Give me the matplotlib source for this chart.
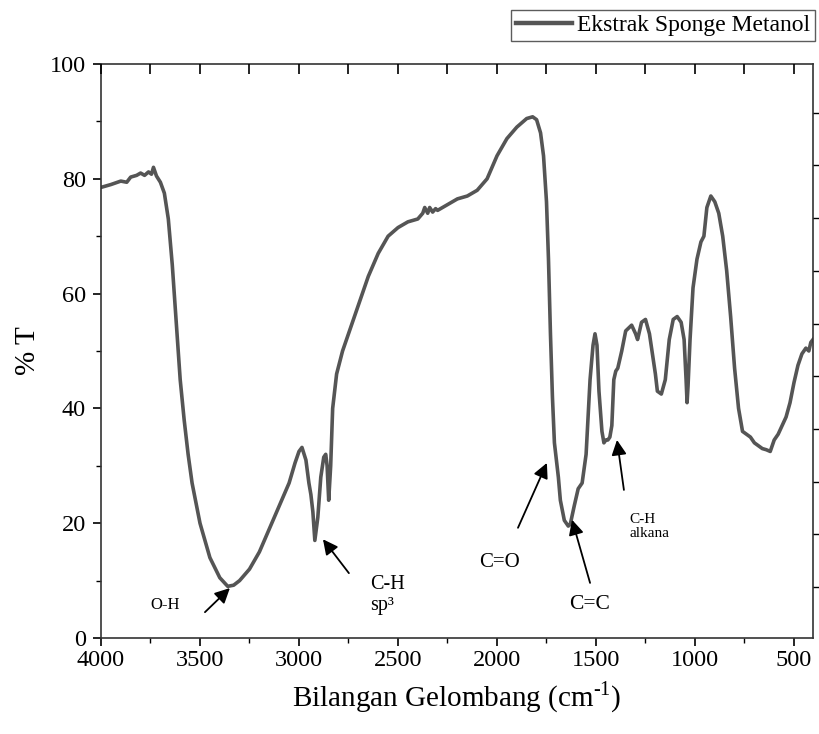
import numpy as np
import matplotlib
matplotlib.use("Agg")
import matplotlib.pyplot as plt
from matplotlib.ticker import MultipleLocator

plt.rcParams['font.family'] = ['Liberation Serif', 'DejaVu Serif']
plt.rcParams['mathtext.fontset'] = 'custom'
plt.rcParams['mathtext.rm'] = 'Liberation Serif'

# ---- data (wavenumber cm-1, %T) ----
wavenumber = [4000, 3950, 3900, 3870, 3850, 3820, 3800, 3780, 3760, 3745, 3735, 3720, 3700, 3680,
              3660, 3640, 3620, 3600, 3580, 3560, 3540, 3500, 3450, 3400, 3360, 3330, 3300,
              3250, 3200, 3150, 3100, 3050, 3020, 3000, 2985, 2965, 2950, 2940, 2930, 2920,
              2905, 2890, 2875, 2865, 2858, 2850, 2840, 2830, 2810, 2780, 2750, 2700, 2650,
              2600, 2550, 2500, 2450, 2400, 2375, 2365, 2350, 2340, 2325, 2310, 2300, 2250,
              2200, 2150, 2100, 2050, 2000, 1950, 1900, 1850, 1820, 1800, 1780, 1765, 1750,
              1740, 1730, 1720, 1710, 1700, 1690, 1680, 1660, 1640, 1630, 1610, 1590, 1570,
              1550, 1530, 1515, 1505, 1495, 1485, 1470, 1460, 1450, 1440, 1430, 1420, 1410,
              1400, 1390, 1370, 1350, 1320, 1300, 1290, 1270, 1250, 1230, 1200, 1190, 1170,
              1150, 1130, 1110, 1090, 1070, 1055, 1045, 1040, 1035, 1025, 1010, 990, 970,
              955, 940, 920, 900, 880, 860, 840, 820, 800, 780, 760, 740, 720, 700, 680,
              660, 640, 620, 600, 580, 560, 540, 520, 500, 480, 460, 440, 425, 415, 404]
transmittance = [78.5, 79.0, 79.6, 79.4, 80.3, 80.6, 81.0, 80.6, 81.2, 80.8, 82.0, 80.5, 79.4, 77.5,
                 73.0, 65.0, 55.0, 45.0, 38.0, 32.0, 27.0, 20.0, 14.0, 10.5, 9.0, 9.2, 10.0,
                 12.0, 15.0, 19.0, 23.0, 27.0, 30.5, 32.5, 33.2, 31.0, 27.0, 25.0, 22.0, 17.0,
                 21.0, 28.0, 31.5, 32.0, 30.0, 24.0, 30.0, 40.0, 46.0, 50.0, 53.0, 58.0, 63.0,
                 67.0, 70.0, 71.5, 72.5, 73.0, 74.0, 75.0, 74.0, 75.0, 74.2, 74.8, 74.5, 75.5,
                 76.5, 77.0, 78.0, 80.0, 84.0, 87.0, 89.0, 90.5, 90.8, 90.3, 88.0, 84.0, 76.0,
                 66.0, 53.0, 42.0, 34.0, 31.0, 28.0, 24.0, 20.5, 19.5, 19.8, 23.0, 26.0, 27.0,
                 32.0, 45.0, 51.0, 53.0, 51.0, 43.0, 36.0, 34.0, 34.5, 34.5, 35.0, 37.0, 45.0,
                 46.5, 47.0, 50.0, 53.5, 54.5, 53.0, 52.0, 55.0, 55.5, 53.0, 46.0, 43.0, 42.5,
                 45.0, 52.0, 55.5, 56.0, 55.0, 52.0, 45.0, 41.0, 44.0, 52.0, 61.0, 66.0, 69.0,
                 70.0, 75.0, 77.0, 76.0, 74.0, 70.0, 64.0, 56.0, 47.0, 40.0, 36.0, 35.5, 35.0,
                 34.0, 33.5, 33.0, 32.8, 32.5, 34.5, 35.5, 37.0, 38.5, 41.0, 44.5, 47.5, 49.5,
                 50.5, 50.0, 51.5, 52.0]

series_label = "Ekstrak Sponge Metanol"
x_ticks = [4000, 3500, 3000, 2500, 2000, 1500, 1000, 500]
y_ticks = [0, 20, 40, 60, 80, 100]

# annotations: (text, text_x, text_y, arrow tail, arrow tip, fontsize, ha)
annotations = [
    ("O-H", 3677, 5.7, (3475, 4.5), (3349, 8.7), 12, "center"),
    ("C-H\nsp³", 2641, 7.5, (2748, 11.3), (2879, 17.2), 14.5, "left"),
    ("C=O", 1985, 13.1, (1894, 19.2), (1748, 30.5), 15, "center"),
    ("C=C", 1530, 5.9, (1530, 9.6), (1621, 20.6), 15.5, "center"),
    ("C-H\nalkana", 1329, 19.5, (1359, 25.8), (1394, 34.5), 11, "left"),
]

fig = plt.figure(figsize=(8.2, 7.34), dpi=100)
ax = fig.add_axes([101/820, 1-638/734, (813-101)/820, (638-64)/734])

ax.plot(wavenumber, transmittance, color='#555555', lw=2.6, label=series_label,
        solid_joinstyle='round')

ax.set_xlim(4000, 404)
ax.set_ylim(0, 100)
ax.set_xticks(x_ticks)
ax.set_yticks(y_ticks)
ax.xaxis.set_minor_locator(MultipleLocator(250))
ax.yaxis.set_minor_locator(MultipleLocator(10))
ax.tick_params(axis='both', which='major', direction='out', length=6, width=1.2,
               labelsize=17.5, top=False, right=False)
ax.tick_params(axis='x', which='major', pad=3)
ax.tick_params(axis='y', which='major', pad=5)
ax.tick_params(axis='both', which='minor', direction='out', length=3.5, width=1.0,
               top=False, right=False)
for s in ax.spines.values():
    s.set_linewidth(1.2)
    s.set_color('#333333')

ax.set_xlabel(r"Bilangan Gelombang (cm$^{\text{-1}}$)", fontsize=21, labelpad=6)
ax.set_ylabel("% T", fontsize=21, labelpad=6)

# top axis ticks (inward, no labels)
axt = ax.twiny()
axt.set_xlim(ax.get_xlim())
axt.set_xticks(np.arange(500, 4001, 250))
axt.tick_params(axis='x', direction='in', length=7, width=1.2, labeltop=False)
# right axis ticks (outward, no labels)
axr = ax.twinx()
axr.set_ylim(ax.get_ylim())
axr.set_yticks(np.arange(91.5, 5, -9.18))
axr.tick_params(axis='y', direction='out', length=4.5, width=1.0, labelright=False)
for a in (axt, axr):
    for s in a.spines.values():
        s.set_visible(False)

for txt, tx, ty, tail, tip, fs, ha in annotations:
    ax.annotate("", xy=tip, xytext=tail,
                arrowprops=dict(arrowstyle='-|>,head_length=0.9,head_width=0.45',
                                color='black', lw=1.3, shrinkA=0, shrinkB=0))
    ax.text(tx, ty, txt, fontsize=fs, ha=ha, va='center', linespacing=1.1)

leg = fig.legend(loc='upper right', bbox_to_anchor=(815/820, 1-10/734),
                 fontsize=17, frameon=True, fancybox=False, edgecolor='#333333',
                 handlelength=2.4, handletextpad=0.2, borderpad=0.2, borderaxespad=0)
leg.get_frame().set_linewidth(1.0)
for h in leg.get_lines():
    h.set_linewidth(3.2)

fig.savefig("out.png", dpi=100)
